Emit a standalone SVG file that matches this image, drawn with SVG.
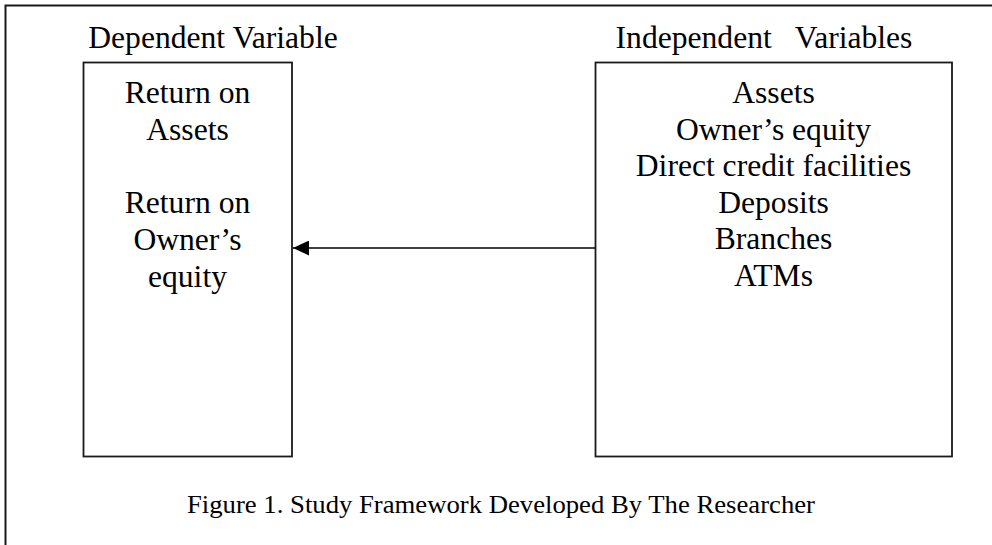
<svg xmlns="http://www.w3.org/2000/svg" width="992" height="545" viewBox="0 0 992 545">
  <style>
    .t { font-family: "Liberation Serif", "Times New Roman", serif; fill: #000; text-anchor: middle; }
    .h { font-size: 31.6px; white-space: pre; }
    .b { font-size: 31.6px; }
    .c { font-size: 26px; }
    .box { fill: #fff; stroke: #1a1a1a; stroke-width: 1.8; }
    .frame { fill: none; stroke: #1a1a1a; stroke-width: 2; }
    .conn { stroke: #000; stroke-width: 1.6; fill: none; }
  </style>
  <defs>
    <marker id="arrow" markerUnits="userSpaceOnUse" markerWidth="16" markerHeight="15" refX="16" refY="7.5" orient="auto">
      <path d="M0,0 L16,7.5 L0,15 Z" fill="#000"/>
    </marker>
  </defs>
  <rect width="992" height="545" fill="#fff"/>
  <path class="frame" d="M5.5,545 L5.5,5.5 L992,5.5"/>

  <text class="t h" x="213" y="48">Dependent Variable</text>
  <text class="t h" x="764" y="48">Independent   Variables</text>

  <g id="dependent">
    <rect class="box" x="83.5" y="62.5" width="208.5" height="394"/>
    <text class="t b" x="187.5" y="103">Return on</text>
    <text class="t b" x="187.5" y="140">Assets</text>
    <text class="t b" x="187.5" y="213">Return on</text>
    <text class="t b" x="187.5" y="250">Owner’s</text>
    <text class="t b" x="187.5" y="286.5">equity</text>
  </g>

  <g id="independent">
    <rect class="box" x="595.5" y="62.5" width="356.5" height="394"/>
    <text class="t b" x="773.5" y="103">Assets</text>
    <text class="t b" x="773.5" y="139.5">Owner’s equity</text>
    <text class="t b" x="773.5" y="176">Direct credit facilities</text>
    <text class="t b" x="773.5" y="212.5">Deposits</text>
    <text class="t b" x="773.5" y="249">Branches</text>
    <text class="t b" x="773.5" y="285.5">ATMs</text>
  </g>

  <g id="connectors">
    <line class="conn" x1="595" y1="248" x2="293" y2="248" marker-end="url(#arrow)"/>
  </g>

  <text class="t c" x="501" y="513" textLength="628" lengthAdjust="spacingAndGlyphs">Figure 1. Study Framework Developed By The Researcher</text>
</svg>
